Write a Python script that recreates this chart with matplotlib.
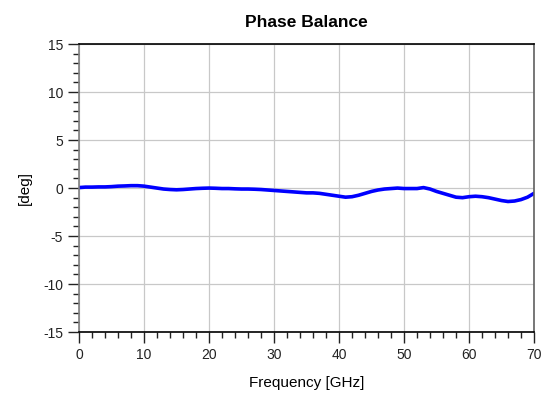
import numpy as np
import matplotlib.pyplot as plt
from matplotlib.ticker import MultipleLocator

plt.rcParams['font.family'] = ['Liberation Sans', 'DejaVu Sans']
plt.rcParams['axes.unicode_minus'] = False

# phase balance, 1 GHz steps
freq = np.arange(0, 71)
phase = [0.05, 0.10, 0.10, 0.12, 0.12, 0.15, 0.20, 0.22, 0.25, 0.25,
         0.20, 0.10, 0.00, -0.10, -0.15, -0.18, -0.15, -0.10, -0.05, -0.02,
         0.00, -0.02, -0.05, -0.05, -0.08, -0.10, -0.10, -0.12, -0.15, -0.20,
         -0.25, -0.30, -0.35, -0.40, -0.45, -0.50, -0.50, -0.55, -0.65, -0.75,
         -0.85, -0.95, -0.90, -0.75, -0.55, -0.35, -0.20, -0.10, -0.05, 0.00,
         -0.05, -0.05, -0.05, 0.05, -0.10, -0.35, -0.55, -0.75, -0.95, -1.00,
         -0.90, -0.85, -0.90, -1.00, -1.15, -1.30, -1.40, -1.35, -1.20, -0.95,
         -0.55]

fig = plt.figure(figsize=(5.48, 4.01), dpi=100)
ax = fig.add_axes([0.1442, 0.172, 0.8303, 0.718])

ax.plot(freq, phase, color='#0000ff', lw=2.6, solid_capstyle='round')

ax.set_xlim(0, 70)
ax.set_ylim(-15, 15)
ax.xaxis.set_major_locator(MultipleLocator(10))
ax.xaxis.set_minor_locator(MultipleLocator(2))
ax.yaxis.set_major_locator(MultipleLocator(5))
ax.yaxis.set_minor_locator(MultipleLocator(1))
ax.tick_params(which='major', direction='out', length=8, width=1, labelsize=10,
               colors='#222222')
ax.tick_params(which='minor', direction='out', length=4.5, width=1, color='#222222')
ax.grid(True, which='major', color='#c8c8c8', lw=0.9)
ax.set_axisbelow(True)

ax.spines['top'].set_color('black')
ax.spines['bottom'].set_color('black')
ax.spines['left'].set_color('#808080')
ax.spines['right'].set_color('#606060')
for s in ax.spines.values():
    s.set_linewidth(1.2)

ax.set_xlabel('Frequency [GHz]', fontsize=11, labelpad=10)
ax.set_ylabel('[deg]', fontsize=11, labelpad=8)
ax.set_title('Phase Balance', fontsize=12.5, fontweight='heavy', pad=12)

fig.savefig('out.png', dpi=100)
